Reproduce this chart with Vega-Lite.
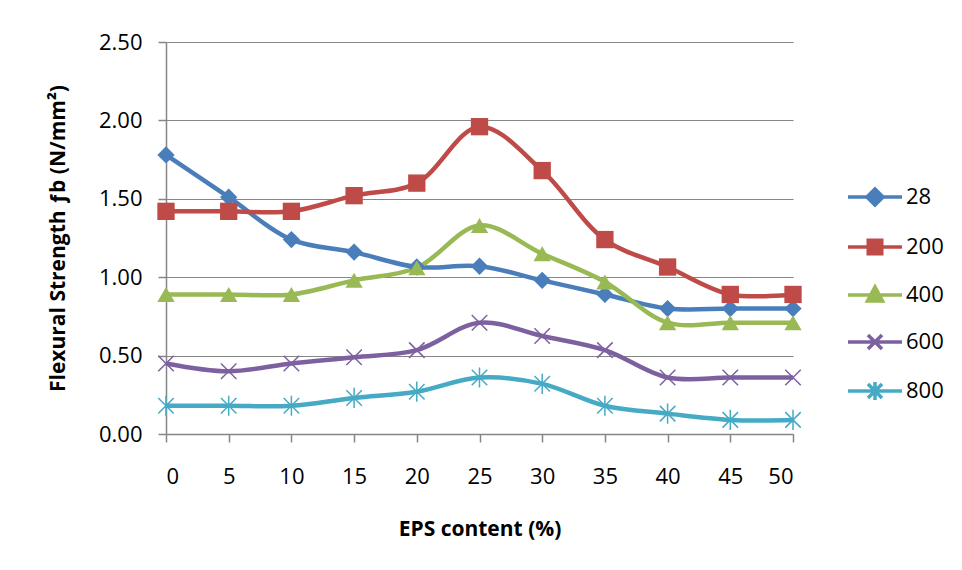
{
  "$schema": "https://vega.github.io/schema/vega-lite/v6.json",
  "width": 627,
  "height": 392,
  "autosize": {"type": "none"},
  "padding": {"left": 166, "top": 42, "right": 169, "bottom": 136},
  "background": "white",
  "config": {
    "view": {"stroke": null},
    "font": "Open Sans",
    "axis": {
      "labelFont": "Open Sans",
      "labelFontSize": 22,
      "labelColor": "#000000",
      "titleFont": "Open Sans",
      "titleFontSize": 21,
      "titleFontWeight": "bold",
      "titleColor": "#000000",
      "domainColor": "#868686",
      "domainWidth": 1.5,
      "tickColor": "#868686",
      "tickWidth": 1.5,
      "tickSize": 8,
      "gridColor": "#868686",
      "gridWidth": 1.2,
      "gridOpacity": 1
    },
    "legend": {
      "labelFont": "Open Sans",
      "labelFontSize": 22,
      "labelColor": "#000000"
    }
  },
  "data": {
    "values": [
      {"eps": 0, "series": "28", "fb": 1.78},
      {"eps": 5, "series": "28", "fb": 1.51},
      {"eps": 10, "series": "28", "fb": 1.24},
      {"eps": 15, "series": "28", "fb": 1.16},
      {"eps": 20, "series": "28", "fb": 1.065},
      {"eps": 25, "series": "28", "fb": 1.07},
      {"eps": 30, "series": "28", "fb": 0.98},
      {"eps": 35, "series": "28", "fb": 0.89},
      {"eps": 40, "series": "28", "fb": 0.8},
      {"eps": 45, "series": "28", "fb": 0.8},
      {"eps": 50, "series": "28", "fb": 0.8},
      {"eps": 0, "series": "200", "fb": 1.42},
      {"eps": 5, "series": "200", "fb": 1.42},
      {"eps": 10, "series": "200", "fb": 1.42},
      {"eps": 15, "series": "200", "fb": 1.52},
      {"eps": 20, "series": "200", "fb": 1.6},
      {"eps": 25, "series": "200", "fb": 1.96},
      {"eps": 30, "series": "200", "fb": 1.68},
      {"eps": 35, "series": "200", "fb": 1.24},
      {"eps": 40, "series": "200", "fb": 1.065},
      {"eps": 45, "series": "200", "fb": 0.89},
      {"eps": 50, "series": "200", "fb": 0.89},
      {"eps": 0, "series": "400", "fb": 0.89},
      {"eps": 5, "series": "400", "fb": 0.89},
      {"eps": 10, "series": "400", "fb": 0.89},
      {"eps": 15, "series": "400", "fb": 0.98},
      {"eps": 20, "series": "400", "fb": 1.06},
      {"eps": 25, "series": "400", "fb": 1.33},
      {"eps": 30, "series": "400", "fb": 1.15},
      {"eps": 35, "series": "400", "fb": 0.97},
      {"eps": 40, "series": "400", "fb": 0.71},
      {"eps": 45, "series": "400", "fb": 0.71},
      {"eps": 50, "series": "400", "fb": 0.71},
      {"eps": 0, "series": "600", "fb": 0.45},
      {"eps": 5, "series": "600", "fb": 0.4},
      {"eps": 10, "series": "600", "fb": 0.45},
      {"eps": 15, "series": "600", "fb": 0.49},
      {"eps": 20, "series": "600", "fb": 0.535},
      {"eps": 25, "series": "600", "fb": 0.71},
      {"eps": 30, "series": "600", "fb": 0.625},
      {"eps": 35, "series": "600", "fb": 0.535},
      {"eps": 40, "series": "600", "fb": 0.36},
      {"eps": 45, "series": "600", "fb": 0.36},
      {"eps": 50, "series": "600", "fb": 0.36},
      {"eps": 0, "series": "800", "fb": 0.18},
      {"eps": 5, "series": "800", "fb": 0.18},
      {"eps": 10, "series": "800", "fb": 0.18},
      {"eps": 15, "series": "800", "fb": 0.23},
      {"eps": 20, "series": "800", "fb": 0.27},
      {"eps": 25, "series": "800", "fb": 0.36},
      {"eps": 30, "series": "800", "fb": 0.32},
      {"eps": 35, "series": "800", "fb": 0.18},
      {"eps": 40, "series": "800", "fb": 0.13},
      {"eps": 45, "series": "800", "fb": 0.09},
      {"eps": 50, "series": "800", "fb": 0.09}
    ]
  },
  "encoding": {
    "x": {
      "field": "eps",
      "type": "quantitative",
      "scale": {"domain": [0, 50], "nice": false, "zero": false},
      "axis": {
        "values": [0, 5, 10, 15, 20, 25, 30, 35, 40, 45, 50],
        "grid": false,
        "labelPadding": 24,
        "titlePadding": 31,
        "title": "EPS content (%)"
      }
    },
    "y": {
      "field": "fb",
      "type": "quantitative",
      "scale": {"domain": [0, 2.5], "nice": false},
      "axis": {
        "values": [0, 0.5, 1, 1.5, 2, 2.5],
        "format": ".2f",
        "grid": true,
        "labelPadding": 16,
        "titlePadding": 30,
        "title": "Flexural Strength ƒb (N/mm²)"
      }
    }
  },
  "layer": [
    {
      "mark": {"type": "line", "interpolate": "catmull-rom", "strokeWidth": 4.5},
      "encoding": {
        "color": {
          "field": "series",
          "type": "nominal",
          "scale": {
            "domain": ["28", "200", "400", "600", "800"],
            "range": ["#4A7EBB", "#BE4B48", "#98B954", "#7D60A0", "#46AAC5"]
          },
          "legend": null
        }
      }
    },
    {
      "transform": [{"filter": {"field": "series", "oneOf": ["28", "200", "400"]}}],
      "mark": {"type": "point", "filled": true, "opacity": 1, "size": 300},
      "encoding": {
        "color": {
          "field": "series",
          "type": "nominal",
          "scale": {
            "domain": ["28", "200", "400", "600", "800"],
            "range": ["#4A7EBB", "#BE4B48", "#98B954", "#7D60A0", "#46AAC5"]
          },
          "legend": null
        },
        "shape": {
          "field": "series",
          "type": "nominal",
          "scale": {
            "domain": ["28", "200", "400", "600", "800"],
            "range": ["diamond", "square", "triangle-up", "M-1,-1L1,1M-1,1L1,-1", "M-1,-1L1,1M-1,1L1,-1M0,-1.3L0,1.3"]
          },
          "legend": null
        }
      }
    },
    {
      "transform": [{"filter": {"field": "series", "oneOf": ["600", "800"]}}],
      "mark": {"type": "point", "filled": false, "opacity": 1, "size": 240, "strokeWidth": 1.5},
      "encoding": {
        "color": {
          "field": "series",
          "type": "nominal",
          "scale": {
            "domain": ["28", "200", "400", "600", "800"],
            "range": ["#4A7EBB", "#BE4B48", "#98B954", "#7D60A0", "#46AAC5"]
          },
          "legend": null
        },
        "shape": {
          "field": "series",
          "type": "nominal",
          "scale": {
            "domain": ["28", "200", "400", "600", "800"],
            "range": ["diamond", "square", "triangle-up", "M-1,-1L1,1M-1,1L1,-1", "M-1,-1L1,1M-1,1L1,-1M0,-1.3L0,1.3"]
          },
          "legend": null
        }
      }
    },
    {
      "mark": {"type": "point", "opacity": 0, "size": 10},
      "encoding": {
        "fill": {
          "field": "series",
          "type": "nominal",
          "title": null,
          "scale": {
            "domain": ["28", "200", "400", "600", "800"],
            "range": ["#4A7EBB", "#BE4B48", "#98B954", "#7D60A0", "#46AAC5"]
          }
        },
        "stroke": {
          "field": "series",
          "type": "nominal",
          "title": null,
          "scale": {
            "domain": ["28", "200", "400", "600", "800"],
            "range": ["#4A7EBB", "#BE4B48", "#98B954", "#7D60A0", "#46AAC5"]
          }
        },
        "shape": {
          "field": "series",
          "type": "nominal",
          "title": null,
          "scale": {
            "domain": ["28", "200", "400", "600", "800"],
            "range": [
              "M-1,0L1,0M0,-0.3L0.3,0L0,0.3L-0.3,0Z",
              "M-1,0L1,0M-0.25,-0.25L0.25,-0.25L0.25,0.25L-0.25,0.25Z",
              "M-1,0L1,0M0,-0.3L0.28,0.22L-0.28,0.22Z",
              "M-1,0L1,0M-0.26,-0.26L0.26,0.26M-0.26,0.26L0.26,-0.26",
              "M-1,0L1,0M-0.26,-0.26L0.26,0.26M-0.26,0.26L0.26,-0.26M0,-0.33L0,0.33"
            ]
          },
          "legend": {
            "title": null,
            "orient": "none",
            "legendX": 680,
            "legendY": 126,
            "symbolSize": 2916,
            "symbolOpacity": 1,
            "symbolStrokeWidth": 3.5,
            "rowPadding": 5,
            "labelOffset": 2,
            "padding": 0
          }
        }
      }
    }
  ],
  "resolve": {"scale": {"shape": "independent", "fill": "independent", "stroke": "independent", "color": "shared"}}
}
